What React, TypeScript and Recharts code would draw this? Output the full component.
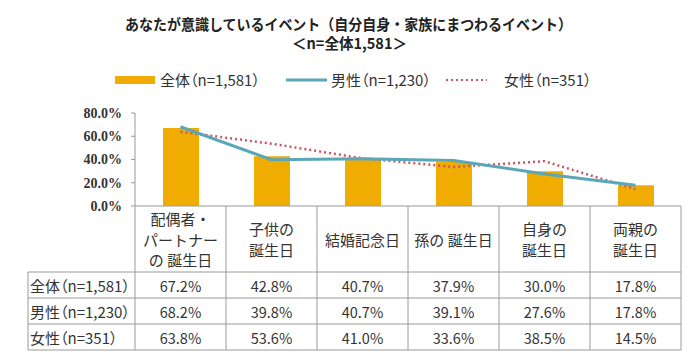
import React from 'react';
import { ComposedChart, Bar, Line, XAxis, YAxis } from 'recharts';

const categories = ['配偶者・\nパートナー\nの 誕生日', '子供の\n誕生日', '結婚記念日', '孫の 誕生日', '自身の\n誕生日', '両親の\n誕生日'];
const seriesNames = ['全体（n=1,581）', '男性（n=1,230）', '女性（n=351）'];
const overall = [67.2, 42.8, 40.7, 37.9, 30.0, 17.8];
const male = [68.2, 39.8, 40.7, 39.1, 27.6, 17.8];
const female = [63.8, 53.6, 41.0, 33.6, 38.5, 14.5];
const yTicks = [0, 20, 40, 60, 80];
const titleText = 'あなたが意識しているイベント（自分自身・家族にまつわるイベント）';
const subtitleText = '＜n=全体1,581＞';

const data = categories.map((name, i) => ({ name, overall: overall[i], male: male[i], female: female[i] }));
const rows = [overall, male, female];

const W = 700;
const H = 359;
const PLOT_L = 135;
const PLOT_R = 681;
const BW = (PLOT_R - PLOT_L) / categories.length;
const TABLE_L = 28;
const BAR_COLOR = '#F0AC00';
const MALE_COLOR = '#5AA7B8';
const FEMALE_COLOR = '#C8566A';
const GRID = '#9a9a9a';
const FONT = '"Noto Sans CJK JP", "Noto Sans", sans-serif';
const TXT = '#333';

const TableTick = (props: any) => {
  const { x, y, payload, index } = props;
  const i = payload && typeof payload.index === 'number' ? payload.index : index;
  const lines = String(payload.value).split('\n');
  const lh = 20.5;
  const cy = y + 33;
  return (
    <g>
      {i === 0 && (
        <g>
          <line x1={x - BW / 2} x2={x - BW / 2} y1={y} y2={y + 144} stroke={GRID} />
          <line x1={TABLE_L} x2={TABLE_L} y1={y + 66} y2={y + 144} stroke={GRID} />
          {[66, 92, 118, 144].map((d) => (
            <line key={d} x1={TABLE_L} x2={PLOT_R} y1={y + d} y2={y + d} stroke={GRID} />
          ))}
          {seriesNames.map((s, k) => (
            <text key={s} x={TABLE_L + 2} y={y + 79 + k * 26} dominantBaseline="central" fontSize={15}
              fill={TXT} style={{ fontFamily: FONT, fontFeatureSettings: '"palt"' }}>{s}</text>
          ))}
        </g>
      )}
      <line x1={x + BW / 2} x2={x + BW / 2} y1={y} y2={y + 144} stroke={GRID} />
      {lines.map((l, k) => (
        <text key={k} x={x} y={cy + (k - (lines.length - 1) / 2) * lh} textAnchor="middle" dominantBaseline="central"
          fontSize={15} fill={TXT} style={{ fontFamily: FONT }}>{l}</text>
      ))}
      {rows.map((r, k) => (
        <text key={k} x={x} y={y + 79 + k * 26} textAnchor="middle" dominantBaseline="central" fontSize={14.5}
          fill={TXT} style={{ fontFamily: FONT }}>{r[i].toFixed(1)}%</text>
      ))}
    </g>
  );
};

export default function App() {
  return (
    <div style={{ position: 'absolute', left: 0, top: 0, width: W, height: H, background: '#fff' }}>
      <ComposedChart width={W} height={H} data={data} margin={{ top: 113, right: W - PLOT_R, bottom: 0, left: PLOT_L - 60 }}>
        <XAxis dataKey="name" height={153} interval={0} tickLine={false} tickSize={0} tickMargin={0}
          axisLine={{ stroke: GRID }} tick={<TableTick />} />
        <YAxis width={60} domain={[0, 80]} ticks={yTicks} interval={0} tickFormatter={(v: number) => v.toFixed(1) + '%'}
          axisLine={{ stroke: GRID }} tickLine={{ stroke: GRID }} tickSize={4} tickMargin={9}
          tick={{ fontSize: 14, fontWeight: 'bold', fill: TXT, fontFamily: '"Liberation Serif", serif' }} />
        <Bar dataKey="overall" fill={BAR_COLOR} barSize={36} isAnimationActive={false} />
        <Line dataKey="female" type="linear" stroke={FEMALE_COLOR} strokeWidth={2.5} strokeDasharray="2 3" dot={false} isAnimationActive={false} />
        <Line dataKey="male" type="linear" stroke={MALE_COLOR} strokeWidth={3} dot={false} isAnimationActive={false} />
      </ComposedChart>
      <svg width={W} height={100} style={{ position: 'absolute', left: 0, top: 0, pointerEvents: 'none', fontFamily: FONT }}>
        <text x={348.5} y={23} textAnchor="middle" dominantBaseline="central" fontSize={15} fontWeight="bold" fill="#222"
          textLength={447} lengthAdjust="spacingAndGlyphs">{titleText}</text>
        <text x={349.5} y={42} textAnchor="middle" dominantBaseline="central" fontSize={15} fontWeight="bold" fill="#222"
          textLength={115} lengthAdjust="spacingAndGlyphs">{subtitleText}</text>
        <rect x={115} y={76} width={40} height={8} fill={BAR_COLOR} />
        <text x={160} y={79} dominantBaseline="central" fontSize={15} fill={TXT} style={{ fontFeatureSettings: '"palt"' }}>{seriesNames[0]}</text>
        <line x1={286} x2={327} y1={80} y2={80} stroke={MALE_COLOR} strokeWidth={3} />
        <text x={331} y={79} dominantBaseline="central" fontSize={15} fill={TXT} style={{ fontFeatureSettings: '"palt"' }}>{seriesNames[1]}</text>
        <line x1={446} x2={487} y1={80} y2={80} stroke={FEMALE_COLOR} strokeWidth={2} strokeDasharray="2 3" />
        <text x={504} y={79} dominantBaseline="central" fontSize={15} fill={TXT} style={{ fontFeatureSettings: '"palt"' }}>{seriesNames[2]}</text>
      </svg>
    </div>
  );
}
